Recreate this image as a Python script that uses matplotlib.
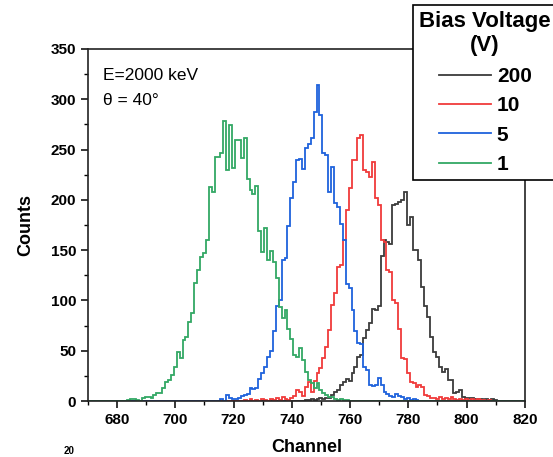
import numpy as np
import matplotlib
matplotlib.use("Agg")
import matplotlib.pyplot as plt
from matplotlib.ticker import MultipleLocator
from matplotlib.lines import Line2D

plt.rcParams['font.family'] = ['Liberation Sans', 'DejaVu Sans']

# counts per channel, each list starts at the given channel
green_start = 684
green = [1, 2, 2, 1, 0, 3, 4, 4, 3, 6, 8, 8, 13, 19, 21, 26, 34, 49, 43, 61,
         64, 79, 88, 117, 130, 143, 147, 160, 213, 208, 243, 243, 247, 278, 230, 274,
         232, 260, 260, 242, 262, 221, 210, 206, 214, 169, 148, 172, 140, 149, 138,
         122, 93, 83, 90, 72, 62, 46, 44, 53, 41, 29, 21, 18, 13, 18, 11, 8, 6, 4,
         4, 2, 1, 2, 1, 1]

blue_start = 716
blue = [2, 0, 6, 3, 2, 2, 3, 5, 6, 7, 13, 12, 13, 22, 28, 34, 44, 50, 70, 94,
        100, 140, 142, 174, 202, 218, 240, 241, 231, 252, 256, 262, 287, 314, 284,
        247, 245, 208, 233, 197, 193, 176, 160, 116, 112, 90, 70, 58, 57, 34, 31,
        16, 15, 16, 23, 16, 9, 7, 5, 4, 7, 5, 4, 2, 3, 1, 2, 1]

red_start = 724
red = [1, 0, 2, 0, 1, 0, 2, 1, 0, 2, 1, 3, 1, 4, 2, 1, 3, 5, 11, 9, 5, 14, 19,
       9, 20, 28, 33, 43, 54, 71, 95, 107, 133, 135, 160, 190, 212, 240, 240, 262,
       264, 230, 228, 223, 238, 202, 195, 160, 158, 130, 128, 100, 97, 72, 43, 42,
       28, 19, 18, 14, 16, 14, 6, 5, 3, 3, 2, 4, 2, 3, 2, 4, 2, 1, 2, 1, 2, 1, 2,
       1, 2, 1, 1, 0, 1]

black_start = 745
black = [1, 1, 2, 1, 2, 3, 2, 3, 3, 6, 9, 11, 16, 19, 22, 20, 28, 34, 44, 46,
         63, 71, 78, 91, 90, 94, 144, 160, 158, 156, 195, 196, 198, 200, 208, 175,
         183, 150, 150, 140, 113, 94, 84, 64, 49, 44, 34, 29, 32, 21, 21, 8, 9, 11,
         4, 3, 3, 3, 2, 2, 2, 1, 2, 1, 2, 1]

labels = ['200', '10', '5', '1']
colors = ['#3c3c3c', '#f03a3a', '#1f62dc', '#33a865']

ch = np.arange(670, 821)


def full(start, vals):
    c = np.zeros(len(ch))
    i = start - ch[0]
    c[i:i + len(vals)] = vals
    return c


series = [full(black_start, black), full(red_start, red),
          full(blue_start, blue), full(green_start, green)]

fig = plt.figure(figsize=(5.53, 4.57), dpi=100)
ax = fig.add_axes([0.159, 0.1225, 0.79, 0.7703])

edges = np.append(ch, 821) - 0.5
for cnt, col, lab in zip(series, colors, labels):
    ax.stairs(cnt, edges, color=col, lw=1.3, label=lab)

ax.set_xlim(670, 820)
ax.set_ylim(0, 350)
ax.xaxis.set_major_locator(MultipleLocator(20))
ax.xaxis.set_minor_locator(MultipleLocator(10))
ax.yaxis.set_major_locator(MultipleLocator(50))
ax.yaxis.set_minor_locator(MultipleLocator(25))
ax.tick_params(which='major', direction='out', length=5, width=1.1, labelsize=11)
ax.tick_params(which='minor', direction='out', length=3, width=1.0)
for lab in ax.get_xticklabels() + ax.get_yticklabels():
    lab.set_fontweight('bold')
for s in ax.spines.values():
    s.set_linewidth(1.2)
    s.set_color('#222222')

ax.set_xlabel('Channel', fontsize=13, fontweight='bold', labelpad=9)
ax.set_ylabel('Counts', fontsize=13, fontweight='bold', labelpad=12)

ax.text(0.034, 0.926, 'E=2000 keV', transform=ax.transAxes, fontsize=12.5,
        va='center', ha='left')
ax.text(0.034, 0.855, '\u03b8 = 40\u00b0', transform=ax.transAxes, fontsize=12.5,
        va='center', ha='left')

leg_lines = [Line2D([], [], color=c, lw=1.3) for c in colors]
leg = fig.legend(leg_lines, labels, loc='upper left',
                 bbox_to_anchor=(0.747, 0.989), title='Bias Voltage\n(V)',
                 prop={'weight': 'bold', 'size': 15},
                 title_fontproperties={'weight': 'bold', 'size': 16},
                 frameon=True, fancybox=False, framealpha=1, edgecolor='black',
                 handlelength=2.5, handletextpad=0.3, labelspacing=0.5,
                 borderpad=0.3, borderaxespad=0)
leg.get_frame().set_linewidth(1.2)
leg.get_title().set_multialignment('center')

fig.text(0.125, 0.002, '20', fontsize=7, fontweight='bold', va='bottom', ha='center')

fig.savefig('out.png', dpi=100)
